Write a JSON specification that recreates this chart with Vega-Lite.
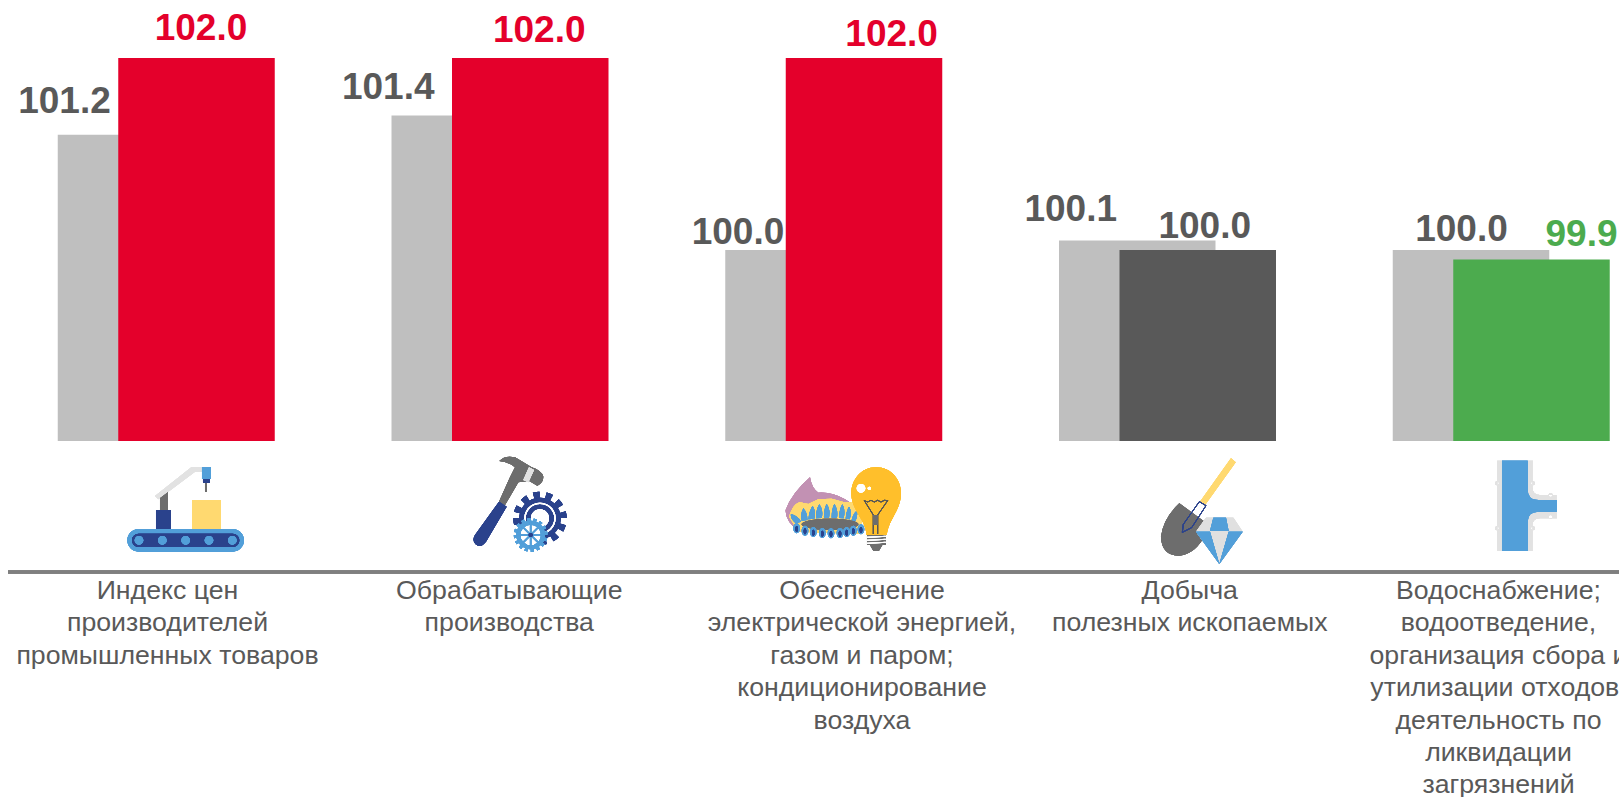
{"$schema":"https://vega.github.io/schema/vega-lite/v6.json","width":1619,"height":797,"autosize":"none","padding":0,"background":"white","config":{"view":{"stroke":null}},
"data":{"values":[
{"name":"Индекс цен","label":"Индекс цен\nпроизводителей\nпромышленных товаров","prev":101.2,"cur":102.0,"status":"рост"},
{"name":"Обрабатывающие","label":"Обрабатывающие\nпроизводства","prev":101.4,"cur":102.0,"status":"рост"},
{"name":"Обеспечение","label":"Обеспечение\nэлектрической энергией,\nгазом и паром;\nкондиционирование\nвоздуха","prev":100.0,"cur":102.0,"status":"рост"},
{"name":"Добыча","label":"Добыча\nполезных ископаемых","prev":100.1,"cur":100.0,"status":"без изменений"},
{"name":"Водоснабжение","label":"Водоснабжение;\nводоотведение,\nорганизация сбора и\nутилизации отходов,\nдеятельность по\nликвидации\nзагрязнений","prev":100.0,"cur":99.9,"status":"снижение"}
]},
"layer":[
{"mark":{"type":"bar","width":156.5,"xOffset":-30.5,"color":"#BFBFBF"},"encoding":{"x":{"field":"name","type":"nominal","sort":null,"axis":null,"scale":{"domain":["Индекс цен","Обрабатывающие","Обеспечение","Добыча","Водоснабжение"],"range":[-0.375,1668.375],"padding":0}},"y":{"field":"prev","type":"quantitative","axis":null,"scale":{"domain":[94.302,102.604],"zero":false,"nice":false}},"y2":{"datum":98.01}}},
{"mark":{"type":"bar","width":156.5,"xOffset":30},"encoding":{"x":{"field":"name","type":"nominal","axis":null},"y":{"field":"cur","type":"quantitative","axis":null},"y2":{"datum":98.01},"color":{"field":"status","type":"nominal","legend":null,"scale":{"domain":["рост","без изменений","снижение"],"range":["#E4002B","#595959","#4CAB4E"]}}}},
{"mark":{"type":"rule","color":"#7F7F7F","strokeWidth":3,"xOffset":8.4,"x2Offset":120},"encoding":{"x":{"datum":"Индекс цен","type":"nominal","bandPosition":0,"axis":null},"x2":{"datum":"Водоснабжение"},"y":{"datum":96.646,"axis":null}}},
{"transform":[{"filter":"datum.name=='Индекс цен'"}],"mark":{"type":"text","font":"Liberation Sans","fontWeight":"bold","fontSize":37,"color":"#595959","dx":-102,"dy":-32.5,"baseline":"middle"},"encoding":{"x":{"field":"name","type":"nominal","axis":null},"y":{"field":"prev","type":"quantitative","axis":null},"text":{"field":"prev","type":"quantitative","format":".1f"}}},
{"transform":[{"filter":"datum.name=='Обрабатывающие'"}],"mark":{"type":"text","font":"Liberation Sans","fontWeight":"bold","fontSize":37,"color":"#595959","dx":-112,"dy":-27.5,"baseline":"middle"},"encoding":{"x":{"field":"name","type":"nominal","axis":null},"y":{"field":"prev","type":"quantitative","axis":null},"text":{"field":"prev","type":"quantitative","format":".1f"}}},
{"transform":[{"filter":"datum.name=='Обеспечение'"}],"mark":{"type":"text","font":"Liberation Sans","fontWeight":"bold","fontSize":37,"color":"#595959","dx":-96,"dy":-16.5,"baseline":"middle"},"encoding":{"x":{"field":"name","type":"nominal","axis":null},"y":{"field":"prev","type":"quantitative","axis":null},"text":{"field":"prev","type":"quantitative","format":".1f"}}},
{"transform":[{"filter":"datum.name=='Добыча'"}],"mark":{"type":"text","font":"Liberation Sans","fontWeight":"bold","fontSize":37,"color":"#595959","dx":-97,"dy":-30.5,"baseline":"middle"},"encoding":{"x":{"field":"name","type":"nominal","axis":null},"y":{"field":"prev","type":"quantitative","axis":null},"text":{"field":"prev","type":"quantitative","format":".1f"}}},
{"transform":[{"filter":"datum.name=='Водоснабжение'"}],"mark":{"type":"text","font":"Liberation Sans","fontWeight":"bold","fontSize":37,"color":"#595959","dx":-40,"dy":-19.5,"baseline":"middle"},"encoding":{"x":{"field":"name","type":"nominal","axis":null},"y":{"field":"prev","type":"quantitative","axis":null},"text":{"field":"prev","type":"quantitative","format":".1f"}}},
{"transform":[{"filter":"datum.name=='Индекс цен'"}],"mark":{"type":"text","font":"Liberation Sans","fontWeight":"bold","fontSize":37,"dx":34.5,"dy":-29,"baseline":"middle"},"encoding":{"x":{"field":"name","type":"nominal","axis":null},"y":{"field":"cur","type":"quantitative","axis":null},"color":{"field":"status","type":"nominal","legend":null},"text":{"field":"cur","type":"quantitative","format":".1f"}}},
{"transform":[{"filter":"datum.name=='Обрабатывающие'"}],"mark":{"type":"text","font":"Liberation Sans","fontWeight":"bold","fontSize":37,"dx":39,"dy":-27,"baseline":"middle"},"encoding":{"x":{"field":"name","type":"nominal","axis":null},"y":{"field":"cur","type":"quantitative","axis":null},"color":{"field":"status","type":"nominal","legend":null},"text":{"field":"cur","type":"quantitative","format":".1f"}}},
{"transform":[{"filter":"datum.name=='Обеспечение'"}],"mark":{"type":"text","font":"Liberation Sans","fontWeight":"bold","fontSize":37,"dx":57.6,"dy":-23,"baseline":"middle"},"encoding":{"x":{"field":"name","type":"nominal","axis":null},"y":{"field":"cur","type":"quantitative","axis":null},"color":{"field":"status","type":"nominal","legend":null},"text":{"field":"cur","type":"quantitative","format":".1f"}}},
{"transform":[{"filter":"datum.name=='Добыча'"}],"mark":{"type":"text","font":"Liberation Sans","fontWeight":"bold","fontSize":37,"dx":37,"dy":-23,"baseline":"middle"},"encoding":{"x":{"field":"name","type":"nominal","axis":null},"y":{"field":"cur","type":"quantitative","axis":null},"color":{"field":"status","type":"nominal","legend":null},"text":{"field":"cur","type":"quantitative","format":".1f"}}},
{"transform":[{"filter":"datum.name=='Водоснабжение'"}],"mark":{"type":"text","font":"Liberation Sans","fontWeight":"bold","fontSize":37,"dx":80,"dy":-25,"baseline":"middle"},"encoding":{"x":{"field":"name","type":"nominal","axis":null},"y":{"field":"cur","type":"quantitative","axis":null},"color":{"field":"status","type":"nominal","legend":null},"text":{"field":"cur","type":"quantitative","format":".1f"}}},
{"transform":[{"filter":"datum.name=='Индекс цен'"}],"mark":{"type":"text","font":"Liberation Sans","fontSize":26.7,"lineHeight":32.4,"lineBreak":"\n","color":"#595959","baseline":"top","dx":1},"encoding":{"x":{"field":"name","type":"nominal","axis":null},"y":{"datum":96.583,"axis":null},"text":{"field":"label"}}},
{"transform":[{"filter":"datum.name=='Обрабатывающие'"}],"mark":{"type":"text","font":"Liberation Sans","fontSize":26.7,"lineHeight":32.4,"lineBreak":"\n","color":"#595959","baseline":"top","dx":9},"encoding":{"x":{"field":"name","type":"nominal","axis":null},"y":{"datum":96.583,"axis":null},"text":{"field":"label"}}},
{"transform":[{"filter":"datum.name=='Обеспечение'"}],"mark":{"type":"text","font":"Liberation Sans","fontSize":26.7,"lineHeight":32.4,"lineBreak":"\n","color":"#595959","baseline":"top","dx":28},"encoding":{"x":{"field":"name","type":"nominal","axis":null},"y":{"datum":96.583,"axis":null},"text":{"field":"label"}}},
{"transform":[{"filter":"datum.name=='Добыча'"}],"mark":{"type":"text","font":"Liberation Sans","fontSize":26.7,"lineHeight":32.4,"lineBreak":"\n","color":"#595959","baseline":"top","dx":22},"encoding":{"x":{"field":"name","type":"nominal","axis":null},"y":{"datum":96.583,"axis":null},"text":{"field":"label"}}},
{"transform":[{"filter":"datum.name=='Водоснабжение'"}],"mark":{"type":"text","font":"Liberation Sans","fontSize":26.7,"lineHeight":32.4,"lineBreak":"\n","color":"#595959","baseline":"top","dx":-3},"encoding":{"x":{"field":"name","type":"nominal","axis":null},"y":{"datum":96.583,"axis":null},"text":{"field":"label"}}},

{"encoding":{"x":{"datum":"Индекс цен","type":"nominal","axis":null},"y":{"datum":97,"axis":null}},"layer":[
{"mark":{"type":"point","filled":true,"opacity":1,"size":0.4444,"strokeWidth":0,"xOffset":-56.5,"yOffset":-83,"color":"#E2E2E2","shape":"M135,123 L245,36 L276,36 L276,50 L255,50 L145,133 Z"}},
{"mark":{"type":"point","filled":true,"opacity":1,"size":0.4444,"strokeWidth":0,"xOffset":-56.5,"yOffset":-83,"color":"#6D6D6D","shape":"M150,130 L174,112 L174,165 L150,165 Z M285,83 L291,83 L291,110 L285,110 Z"}},
{"mark":{"type":"point","filled":true,"opacity":1,"size":0.4444,"strokeWidth":0,"xOffset":-56.5,"yOffset":-83,"color":"#FFD970","shape":"M246,135 L333,135 L333,222 L246,222 Z"}},
{"mark":{"type":"point","filled":true,"opacity":1,"size":0.4444,"strokeWidth":0,"xOffset":-56.5,"yOffset":-83,"color":"#529FD9","shape":"M86,222 L368,222 A34,34 0 0 1 368,290 L86,290 A34,34 0 0 1 86,222 Z M276,36 L303,36 L303,72 L276,72 Z"}},
{"mark":{"type":"point","filled":true,"opacity":1,"size":0.4444,"strokeWidth":0,"xOffset":-56.5,"yOffset":-83,"color":"#2A428C","shape":"M86,236 L368,236 A20,20 0 0 1 368,276 L86,276 A20,20 0 0 1 86,236 Z M138,165 L183,165 L183,222 L138,222 Z M279,72 L300,72 L300,83 L279,83 Z"}},
{"mark":{"type":"point","filled":true,"opacity":1,"size":0.4444,"strokeWidth":0,"xOffset":-56.5,"yOffset":-83,"color":"#529FD9","shape":"M74,256 A13,13 0 1 0 100,256 A13,13 0 1 0 74,256 Z M144,256 A13,13 0 1 0 170,256 A13,13 0 1 0 144,256 Z M214,256 A13,13 0 1 0 240,256 A13,13 0 1 0 214,256 Z M284,256 A13,13 0 1 0 310,256 A13,13 0 1 0 284,256 Z M354,256 A13,13 0 1 0 380,256 A13,13 0 1 0 354,256 Z"}}
]},

{"encoding":{"x":{"datum":"Обрабатывающие","type":"nominal","axis":null},"y":{"datum":97,"axis":null}},"layer":[
{"mark":{"type":"point","filled":true,"opacity":1,"size":0.4444,"strokeWidth":0,"xOffset":-40.25,"yOffset":-88,"color":"#6D6D6D","shape":"M118,33 Q135,15 165,22 L215,52 Q245,62 250,80 Q250,98 232,107 L208,93 L185,95 L175,97 L135,165 L117,155 L150,82 L165,52 Q145,35 118,33 Z"}},
{"mark":{"type":"point","filled":true,"opacity":1,"size":0.4444,"strokeWidth":0,"xOffset":-40.25,"yOffset":-88,"color":"#E2E2E2","shape":"M207,52 L222,60 L205,97 L190,90 Z"}},
{"mark":{"type":"point","filled":true,"opacity":1,"size":0.4444,"strokeWidth":0,"xOffset":-40.25,"yOffset":-88,"color":"#2A428C","shape":"M117,155 L140,170 L78,275 Q62,295 47,283 Q35,270 45,255 Z M178,205 A62,62 0 1 0 302,205 A62,62 0 1 0 178,205 Z"}},
{"mark":{"type":"point","filled":false,"opacity":1,"size":0.4444,"strokeWidth":6,"strokeDash":[6,6.39],"xOffset":-40.25,"yOffset":-88,"color":"#2A428C","shape":"M169,205 A71,71 0 1 0 311,205 A71,71 0 1 0 169,205 Z"}},
{"mark":{"type":"point","filled":false,"opacity":1,"size":0.4444,"strokeWidth":1.3,"xOffset":-40.25,"yOffset":-88,"color":"white","shape":"M195,205 A45,45 0 1 0 285,205 A45,45 0 1 0 195,205 Z"}},
{"mark":{"type":"point","filled":true,"opacity":1,"size":0.4444,"strokeWidth":0,"xOffset":-40.25,"yOffset":-88,"color":"white","shape":"M213,205 A27,27 0 1 0 267,205 A27,27 0 1 0 213,205 Z M175,255 A37,37 0 1 0 249,255 A37,37 0 1 0 175,255 Z"}},
{"mark":{"type":"point","filled":false,"opacity":1,"size":0.4444,"strokeWidth":4,"xOffset":-40.25,"yOffset":-88,"color":"#529FD9","shape":"M175,255 A37,37 0 1 0 249,255 A37,37 0 1 0 175,255 Z"}},
{"mark":{"type":"point","filled":false,"opacity":1,"size":0.4444,"strokeWidth":3,"strokeDash":[3,3],"xOffset":-40.25,"yOffset":-88,"color":"#529FD9","shape":"M166,255 A46,46 0 1 0 258,255 A46,46 0 1 0 166,255 Z"}},
{"mark":{"type":"point","filled":false,"opacity":1,"size":0.4444,"strokeWidth":1.5,"xOffset":-40.25,"yOffset":-88,"color":"#529FD9","shape":"M212,218 L212,292 M175,255 L249,255 M186,229 L238,281 M238,229 L186,281"}},
{"mark":{"type":"point","filled":true,"opacity":1,"size":0.4444,"strokeWidth":0,"xOffset":-40.25,"yOffset":-88,"color":"#2A428C","shape":"M206,255 A6,6 0 1 0 218,255 A6,6 0 1 0 206,255 Z"}}
]},

{"encoding":{"x":{"datum":"Обеспечение","type":"nominal","axis":null},"y":{"datum":97,"axis":null}},"layer":[
{"mark":{"type":"point","filled":true,"opacity":1,"size":0.4444,"strokeWidth":0,"xOffset":-59,"yOffset":-78,"color":"#C291B3","shape":"M105,52 Q110,85 130,98 Q170,95 210,118 L245,140 L245,170 L75,215 Q30,185 32,150 Q50,100 105,52 Z"}},
{"mark":{"type":"point","filled":true,"opacity":1,"size":0.4444,"strokeWidth":0,"xOffset":-59,"yOffset":-78,"color":"#FFD970","shape":"M42,170 Q55,130 75,127 L100,132 L130,118 L170,116 L205,126 L235,128 L262,180 L250,222 L70,215 Z"}},
{"mark":{"type":"point","filled":true,"opacity":1,"size":0.4444,"strokeWidth":0,"xOffset":-59,"yOffset":-78,"color":"#529FD9","shape":"M62,190 Q45,175 48,162 Q70,168 78,185 Z M80,182 Q76,160 85,145 Q98,160 97,180 Z M100,178 Q102,152 113,138 Q124,155 118,176 Z M123,175 Q122,150 133,133 Q146,150 140,174 Z M147,174 Q146,148 155,131 Q167,150 162,173 Z M170,173 Q170,148 178,131 Q190,150 186,173 Z M192,174 Q192,150 202,133 Q212,150 206,175 Z M212,176 Q214,152 222,140 Q232,155 224,178 Z M230,180 Q234,162 245,152 Q250,168 240,185 Z"}},
{"mark":{"type":"point","filled":true,"opacity":1,"size":0.4444,"strokeWidth":0,"xOffset":-59,"yOffset":-78,"color":"#6D6D6D","shape":"M80,193 A85,17 0 1 0 250,193 A85,17 0 1 0 80,193 Z"}},
{"mark":{"type":"point","filled":true,"opacity":1,"size":0.4444,"strokeWidth":0,"xOffset":-59,"yOffset":-78,"color":"#529FD9","shape":"M55,205 A10,15 0 1 0 75,205 A10,15 0 1 0 55,205 Z M80,212 A10,15 0 1 0 100,212 A10,15 0 1 0 80,212 Z M105,216 A10,15 0 1 0 125,216 A10,15 0 1 0 105,216 Z M132,219 A10,15 0 1 0 152,219 A10,15 0 1 0 132,219 Z M158,220 A10,15 0 1 0 178,220 A10,15 0 1 0 158,220 Z M185,219 A10,15 0 1 0 205,219 A10,15 0 1 0 185,219 Z M205,216 A10,15 0 1 0 225,216 A10,15 0 1 0 205,216 Z M225,212 A10,15 0 1 0 245,212 A10,15 0 1 0 225,212 Z M248,208 A10,15 0 1 0 268,208 A10,15 0 1 0 248,208 Z"}},
{"mark":{"type":"point","filled":true,"opacity":1,"size":0.4444,"strokeWidth":0,"xOffset":-59,"yOffset":-78,"color":"#2A428C","shape":"M61,207 A4,9 0 1 0 69,207 A4,9 0 1 0 61,207 Z M86,214 A4,9 0 1 0 94,214 A4,9 0 1 0 86,214 Z M111,218 A4,9 0 1 0 119,218 A4,9 0 1 0 111,218 Z M138,221 A4,9 0 1 0 146,221 A4,9 0 1 0 138,221 Z M164,222 A4,9 0 1 0 172,222 A4,9 0 1 0 164,222 Z M191,221 A4,9 0 1 0 199,221 A4,9 0 1 0 191,221 Z M211,218 A4,9 0 1 0 219,218 A4,9 0 1 0 211,218 Z M231,214 A4,9 0 1 0 239,214 A4,9 0 1 0 231,214 Z M254,210 A4,9 0 1 0 262,210 A4,9 0 1 0 254,210 Z"}},
{"mark":{"type":"point","filled":true,"opacity":1,"size":0.4444,"strokeWidth":0,"xOffset":-59,"yOffset":-78,"color":"#FFBF2B","shape":"M303,22 C350,22 378,60 378,100 C378,150 342,175 335,225 L275,225 C270,175 229,150 229,100 C229,60 258,22 303,22 Z"}},
{"mark":{"type":"point","filled":true,"opacity":1,"size":0.4444,"strokeWidth":0,"xOffset":-59,"yOffset":-78,"color":"white","shape":"M245,85 A13,13 0 1 0 271,85 A13,13 0 1 0 245,85 Z M278,85 A5,5 0 1 0 288,85 A5,5 0 1 0 278,85 Z"}},
{"mark":{"type":"point","filled":false,"opacity":1,"size":0.4444,"strokeWidth":0.8,"xOffset":-59,"yOffset":-78,"color":"#555555","shape":"M268,122 L278,126 L288,121 L298,126 L308,121 L318,126 L328,121 L338,122 L308,165 L308,222 M268,122 L295,165 L295,222"}},
{"mark":{"type":"point","filled":true,"opacity":1,"size":0.4444,"strokeWidth":0,"xOffset":-59,"yOffset":-78,"color":"#6D6D6D","shape":"M295,165 L308,165 L308,195 L295,195 Z M276,225 L332,225 L332,255 L322,255 L312,272 L295,272 L285,255 L276,255 Z"}},
{"mark":{"type":"point","filled":false,"opacity":1,"size":0.4444,"strokeWidth":1,"xOffset":-59,"yOffset":-78,"color":"white","shape":"M276,232 L332,229 M276,241 L332,238 M276,250 L332,247"}}
]},

{"encoding":{"x":{"datum":"Добыча","type":"nominal","axis":null},"y":{"datum":97,"axis":null}},"layer":[
{"mark":{"type":"point","filled":true,"opacity":1,"size":0.4444,"strokeWidth":0,"xOffset":-17.75,"yOffset":-83,"color":"#6D6D6D","shape":"M88,145 L170,205 L160,250 Q130,300 85,302 Q35,300 33,245 Q40,190 88,145 Z"}},
{"mark":{"type":"point","filled":true,"opacity":1,"size":0.4444,"strokeWidth":0,"xOffset":-17.75,"yOffset":-83,"color":"#FFD970","shape":"M243,10 L257,22 L165,150 L150,140 Z"}},
{"mark":{"type":"point","filled":false,"opacity":1,"size":0.4444,"strokeWidth":1,"xOffset":-17.75,"yOffset":-83,"color":"#2A428C","shape":"M148,140 L168,152 L125,218 L97,232 L100,208 Z"}},
{"mark":{"type":"point","filled":true,"opacity":1,"size":0.4444,"strokeWidth":0,"xOffset":-17.75,"yOffset":-83,"color":"#E0E0E0","shape":"M168,188 L250,188 L278,230 L208,327 L138,230 Z"}},
{"mark":{"type":"point","filled":true,"opacity":1,"size":0.4444,"strokeWidth":0,"xOffset":-17.75,"yOffset":-83,"color":"#529FD9","shape":"M190,188 L228,188 L236,228 L180,228 Z M138,230 L180,230 L208,327 Z M236,230 L278,230 L208,327 Z"}}
]},

{"encoding":{"x":{"datum":"Водоснабжение","type":"nominal","axis":null},"y":{"datum":97,"axis":null}},"layer":[
{"mark":{"type":"point","filled":true,"opacity":1,"size":0.4444,"strokeWidth":0,"xOffset":-21.5,"yOffset":-83,"color":"#E2E2E2","shape":"M52,17 L158,17 L158,100 Q158,120 180,120 L230,120 L230,190 L180,190 Q158,190 158,210 L158,288 L52,288 Z M45,85 A6,6 0 1 0 57,85 A6,6 0 1 0 45,85 Z M45,220 A6,6 0 1 0 57,220 A6,6 0 1 0 45,220 Z M153,85 A6,6 0 1 0 165,85 A6,6 0 1 0 153,85 Z M153,220 A6,6 0 1 0 165,220 A6,6 0 1 0 153,220 Z M206,120 A6,6 0 1 0 218,120 A6,6 0 1 0 206,120 Z M206,186 A6,6 0 1 0 218,186 A6,6 0 1 0 206,186 Z"}},
{"mark":{"type":"point","filled":true,"opacity":1,"size":0.4444,"strokeWidth":0,"xOffset":-21.5,"yOffset":-83,"color":"#529FD9","shape":"M66,17 L143,17 L143,105 Q143,135 175,135 L230,135 L230,170 L175,170 Q143,170 143,200 L143,288 L66,288 Z"}}
]}
]}
